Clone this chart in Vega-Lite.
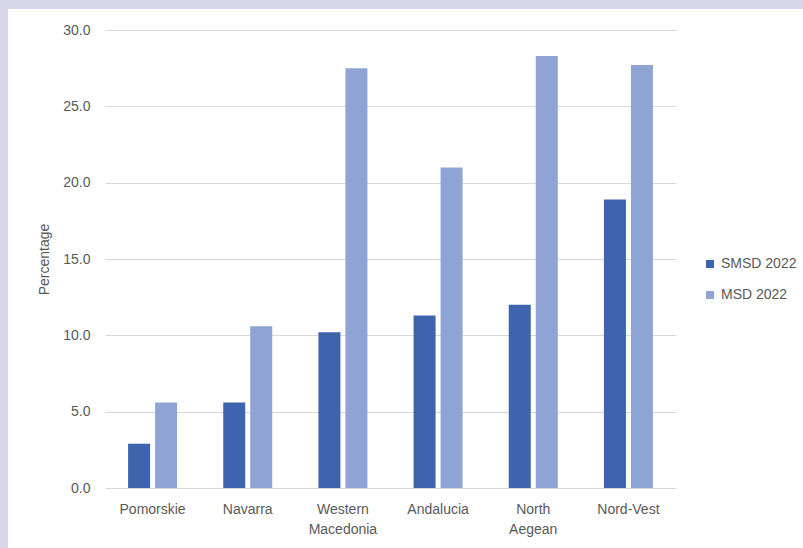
{
  "$schema": "https://vega.github.io/schema/vega-lite/v6.json",
  "autosize": "none",
  "width": 795,
  "height": 539,
  "padding": {"left": 8, "top": 9, "right": 0, "bottom": 0},
  "background": "#D9D8EA",
  "config": {
    "view": {"fill": "#FFFFFF", "stroke": null},
    "font": "Liberation Sans"
  },
  "data": {
    "values": [
      {"region": "Pomorskie", "series": "SMSD 2022", "value": 2.9},
      {"region": "Pomorskie", "series": "MSD 2022", "value": 5.6},
      {"region": "Navarra", "series": "SMSD 2022", "value": 5.6},
      {"region": "Navarra", "series": "MSD 2022", "value": 10.6},
      {"region": "Western Macedonia", "series": "SMSD 2022", "value": 10.2},
      {"region": "Western Macedonia", "series": "MSD 2022", "value": 27.5},
      {"region": "Andalucia", "series": "SMSD 2022", "value": 11.3},
      {"region": "Andalucia", "series": "MSD 2022", "value": 21.0},
      {"region": "North Aegean", "series": "SMSD 2022", "value": 12.0},
      {"region": "North Aegean", "series": "MSD 2022", "value": 28.3},
      {"region": "Nord-Vest", "series": "SMSD 2022", "value": 18.9},
      {"region": "Nord-Vest", "series": "MSD 2022", "value": 27.7}
    ]
  },
  "mark": {"type": "bar"},
  "encoding": {
    "x": {
      "field": "region",
      "type": "nominal",
      "sort": null,
      "scale": {"range": [97, 668], "paddingInner": 0.485, "paddingOuter": 0.2425},
      "axis": {
        "title": null,
        "domain": false,
        "ticks": false,
        "tickSize": 0,
        "offset": -60,
        "labelPadding": 14,
        "labelAngle": 0,
        "labelFontSize": 14,
        "labelColor": "#595959",
        "labelBaseline": "top",
        "labelLineHeight": 20,
        "labelExpr": "datum.label == 'Western Macedonia' ? ['Western', 'Macedonia'] : datum.label == 'North Aegean' ? ['North', 'Aegean'] : datum.label"
      }
    },
    "xOffset": {
      "field": "series",
      "type": "nominal",
      "sort": ["SMSD 2022", "MSD 2022"],
      "scale": {"paddingInner": 0.185, "paddingOuter": 0}
    },
    "y": {
      "field": "value",
      "type": "quantitative",
      "scale": {"domain": [0, 30], "range": [479, 21], "nice": false},
      "axis": {
        "title": "Percentage",
        "titleFontSize": 14,
        "titleFontWeight": "normal",
        "titleColor": "#595959",
        "titleX": -54,
        "titleY": 250,
        "offset": -97,
        "domain": false,
        "ticks": false,
        "tickSize": 0,
        "values": [0, 5, 10, 15, 20, 25, 30],
        "format": ".1f",
        "labelPadding": 15,
        "labelFontSize": 14,
        "labelColor": "#595959",
        "gridColor": "#D9D9D9",
        "gridWidth": 1
      }
    },
    "color": {
      "field": "series",
      "type": "nominal",
      "sort": ["SMSD 2022", "MSD 2022"],
      "scale": {"domain": ["SMSD 2022", "MSD 2022"], "range": ["#3D64AD", "#8FA4D4"]},
      "legend": {
        "title": null,
        "orient": "none",
        "legendX": 695,
        "legendY": 248,
        "padding": 0,
        "symbolType": "square",
        "symbolSize": 64,
        "symbolStrokeWidth": 0,
        "labelFontSize": 14,
        "labelColor": "#595959",
        "labelOffset": 4,
        "rowPadding": 17
      }
    }
  }
}
